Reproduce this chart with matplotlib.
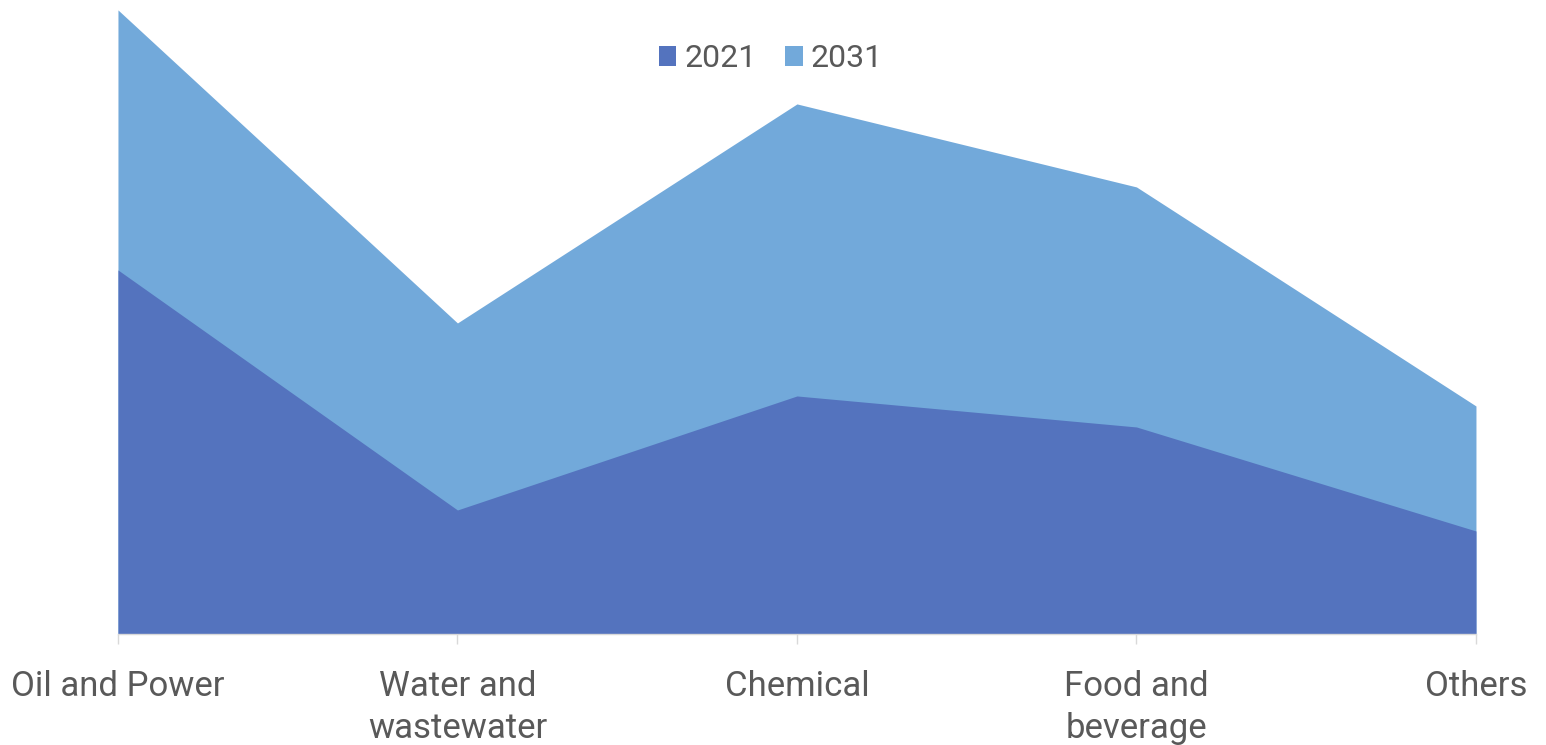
import matplotlib.pyplot as plt

plt.rcParams["font.family"] = ["Roboto", "DejaVu Sans"]

categories = ["Oil and Power", "Water and\nwastewater", "Chemical", "Food and\nbeverage", "Others"]
val_2021 = [3.64, 1.24, 2.38, 2.07, 1.03]
val_2031 = [6.24, 3.11, 5.30, 4.47, 2.28]

c_2021 = "#5473be"
c_2031 = "#72a9da"
text_col = "#595959"

fig = plt.figure(figsize=(15.46, 7.45), dpi=100)
ax = fig.add_axes([0.0763, 0.149, 0.8784, 0.8377])

x = list(range(len(categories)))
ax.fill_between(x, 0, val_2031, color=c_2031, linewidth=0, label="2031")
ax.fill_between(x, 0, val_2021, color=c_2021, linewidth=0, label="2021")

ax.set_xlim(0, len(categories) - 1)
ax.set_ylim(0, 6.24)
ax.set_xticks(x)
ax.set_xticklabels(categories, fontsize=25, color=text_col, linespacing=1.35)
ax.tick_params(axis="x", length=7, width=1, color="#d9d9d9", pad=19)
ax.set_yticks([])
for s in ["top", "right", "left"]:
    ax.spines[s].set_visible(False)
ax.spines["bottom"].set_color("#d9d9d9")
ax.spines["bottom"].set_linewidth(1)

handles, labels = ax.get_legend_handles_labels()
leg = fig.legend(handles[::-1], labels[::-1], loc="center", bbox_to_anchor=(0.4987, 0.921),
                 ncol=2, frameon=False, fontsize=23, handlelength=0.55, handleheight=0.55,
                 handletextpad=0.25, columnspacing=0.9)
for t in leg.get_texts():
    t.set_color(text_col)

fig.savefig("out.png", dpi=100)
